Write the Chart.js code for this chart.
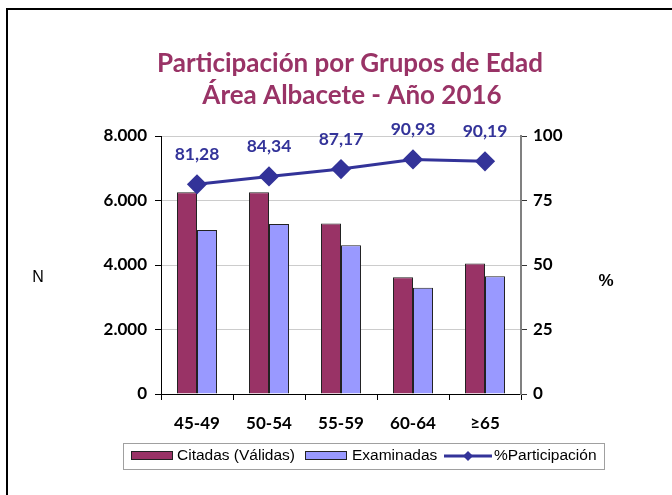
<!DOCTYPE html>
<html>
<head>
<meta charset="utf-8">
<script src="https://cdn.jsdelivr.net/npm/chart.js@4.4.0/dist/chart.umd.min.js"></script>
<style>
html, body { margin: 0; padding: 0; background: #fff; }
#wrap { position: relative; width: 672px; height: 495px; }
</style>
</head>
<body>
<div id="wrap"><canvas id="grafico"></canvas></div>
<script>
// Grupos de edad (eje X)
var grupos = ['45-49', '50-54', '55-59', '60-64', '≥65'];
// Citadas (válidas) y examinadas
var citadas = [6255, 6255, 5290, 3620, 4050];
var examinadas = [5085, 5275, 4611, 3292, 3653];
// Porcentaje de participación
var participacion = [81.28, 84.34, 87.17, 90.93, 90.19];
// Marcas de los ejes
var ticksN = [0, 2000, 4000, 6000, 8000];
var ticksPct = [0, 25, 50, 75, 100];
var titulo = ['Participación por Grupos de Edad', 'Área Albacete - Año 2016'];

function miles(v) {
  if (v < 1000) return String(v);
  var s = String(v % 1000);
  while (s.length < 3) s = '0' + s;
  return Math.floor(v / 1000) + '.' + s;
}

var fuenteEje = { family: 'Lato', size: 17, weight: 'bold' };

var decoracion = {
  id: 'decoracion',
  beforeDraw: function (chart) {
    var c = chart.ctx;
    c.save();
    c.fillStyle = '#fff';
    c.fillRect(0, 0, chart.width, chart.height);
    // marco
    c.strokeStyle = '#000';
    c.lineWidth = 2;
    c.beginPath();
    c.moveTo(7, chart.height);
    c.lineTo(7, 9);
    c.lineTo(chart.width, 9);
    c.stroke();
    // titulo
    c.fillStyle = '#993366';
    c.font = 'bold 26px Lato';
    c.textAlign = 'center';
    c.textBaseline = 'alphabetic';
    c.fillText(titulo[0], 350, 72);
    c.fillText(titulo[1], 352, 104);
    // nombres de los ejes
    c.textBaseline = 'middle';
    c.fillStyle = '#000';
    c.font = '16px "Liberation Sans"';
    c.fillText('N', 38, 278);
    c.font = 'bold 17px "Liberation Sans"';
    c.fillText('%', 606, 281);
    c.restore();
  },
  afterDatasetsDraw: function (chart) {
    var c = chart.ctx;
    var meta = chart.getDatasetMeta(2);
    c.save();
    c.fillStyle = '#333399';
    c.font = 'bold 17.5px Lato';
    c.textAlign = 'center';
    c.textBaseline = 'middle';
    meta.data.forEach(function (pt, i) {
      c.fillText(participacion[i].toFixed(2).replace('.', ','), pt.x, pt.y - 30);
    });
    c.restore();
  },
  afterDraw: function (chart) {
    var c = chart.ctx;
    var ds = chart.data.datasets;
    c.save();
    c.strokeStyle = '#a0a0a0';
    c.lineWidth = 1;
    c.strokeRect(123.5, 443.5, 481, 26);
    c.font = '15.5px "Liberation Sans"';
    c.textBaseline = 'middle';
    c.fillStyle = '#000';
    var y = 456;
    // Citadas
    c.fillStyle = ds[0].backgroundColor;
    c.fillRect(131, 451, 42, 9);
    c.strokeStyle = '#222';
    c.strokeRect(131.5, 451.5, 41, 8);
    c.fillStyle = '#000';
    c.fillText(ds[0].label, 177, y);
    // Examinadas
    c.fillStyle = ds[1].backgroundColor;
    c.fillRect(305, 451, 42, 9);
    c.strokeRect(305.5, 451.5, 41, 8);
    c.fillStyle = '#000';
    c.fillText(ds[1].label, 352, y);
    // %Participacion
    c.strokeStyle = ds[2].borderColor;
    c.lineWidth = 3;
    c.beginPath();
    c.moveTo(444, y);
    c.lineTo(492, y);
    c.stroke();
    c.fillStyle = ds[2].borderColor;
    c.beginPath();
    c.moveTo(468, y - 5);
    c.lineTo(473, y);
    c.lineTo(468, y + 5);
    c.lineTo(463, y);
    c.closePath();
    c.fill();
    c.fillStyle = '#000';
    c.fillText(ds[2].label, 494, y);
    c.restore();
  }
};

var ctx = document.getElementById('grafico').getContext('2d');

var grafico = new Chart(ctx, {
  type: 'bar',
  data: {
    labels: grupos,
    datasets: [{
      label: 'Citadas (Válidas)',
      data: citadas,
      backgroundColor: '#993366',
      borderColor: '#222',
      borderWidth: 1,
      yAxisID: 'y',
      order: 1
    }, {
      label: 'Examinadas',
      data: examinadas,
      backgroundColor: '#9999ff',
      borderColor: '#222',
      borderWidth: 1,
      yAxisID: 'y',
      order: 1
    }, {
      type: 'line',
      label: '%Participación',
      data: participacion,
      borderColor: '#333399',
      backgroundColor: '#333399',
      borderWidth: 3,
      pointStyle: 'rectRot',
      pointRadius: 8,
      pointHoverRadius: 8,
      yAxisID: 'y1',
      order: 0
    }]
  },
  options: {
    responsive: true,
    maintainAspectRatio: false,
    animation: false,
    layout: { padding: { top: 136, left: 0, right: 0, bottom: 0 } },
    datasets: {
      bar: { categoryPercentage: 0.556, barPercentage: 1 }
    },
    plugins: {
      legend: { display: false },
      title: { display: false },
      tooltip: { enabled: false }
    },
    scales: {
      x: {
        offset: true,
        grid: { offset: true, drawOnChartArea: false, color: '#000', tickLength: 6 },
        border: { color: '#000', width: 1 },
        ticks: { color: '#000', font: fuenteEje, padding: 13 },
        afterFit: function (s) { s.height = 101; }
      },
      y: {
        position: 'left',
        min: 0,
        max: 8000,
        afterBuildTicks: function (s) { s.ticks = ticksN.map(function (v) { return { value: v }; }); },
        grid: { color: '#cccccc', tickColor: '#000', tickLength: 6 },
        border: { color: '#000', width: 1 },
        ticks: { color: '#000', font: fuenteEje, padding: 8, callback: function (v) { return miles(v); } },
        afterFit: function (s) { s.width = 161; }
      },
      y1: {
        position: 'right',
        min: 0,
        max: 100,
        afterBuildTicks: function (s) { s.ticks = ticksPct.map(function (v) { return { value: v }; }); },
        grid: { drawOnChartArea: false, color: '#333', tickLength: 6 },
        border: { color: '#808080', width: 2 },
        ticks: { color: '#000', font: fuenteEje, padding: 6 },
        afterFit: function (s) { s.width = 151; }
      }
    }
  },
  plugins: [decoracion]
});
</script>
</body>
</html>
